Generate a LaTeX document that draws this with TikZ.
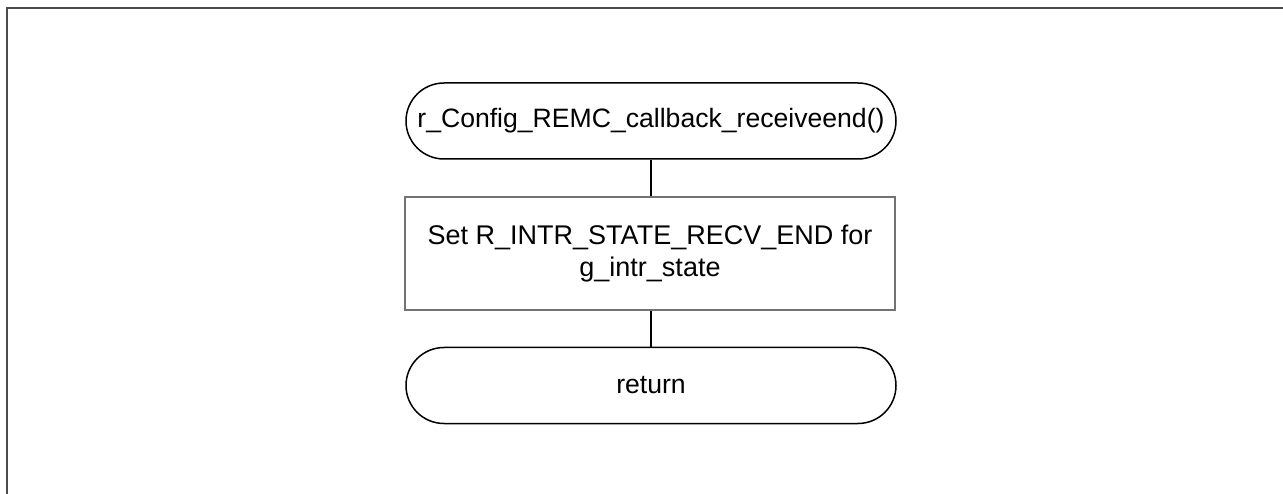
\documentclass[tikz,border=0pt]{standalone}
\usepackage{fontspec}
\setmainfont{Liberation Sans}
\usetikzlibrary{shapes.misc}
\begin{document}
\begin{tikzpicture}[x=1pt,y=-1pt,
  term/.style={draw=black,line width=1.5pt,rounded rectangle,minimum width=490pt,minimum height=76pt,inner sep=0pt,font=\fontsize{26.6}{30}\selectfont},
  proc/.style={draw=black!55,line width=1.5pt,rectangle,minimum width=490pt,minimum height=113pt,inner sep=0pt,align=center,font=\fontsize{27}{32}\selectfont},
  conn/.style={draw=black,line width=2pt},
  frame/.style={draw=black!70,line width=2pt}]
\useasboundingbox (0,0) rectangle (1283,494);
\draw[frame] (7,494) -- (7,8) -- (1283,8);
\node[term] (start) at (651,121) {r\_Config\_REMC\_callback\_receiveend()};
\node[proc] (set) at (650,253.5) {Set R\_INTR\_STATE\_RECV\_END for\\g\_intr\_state};
\node[term] (ret) at (651,385.5) {return};
\draw[conn] (start.south) -- (start.south |- set.north);
\draw[conn] (ret.north |- set.south) -- (ret.north);
\end{tikzpicture}
\end{document}
